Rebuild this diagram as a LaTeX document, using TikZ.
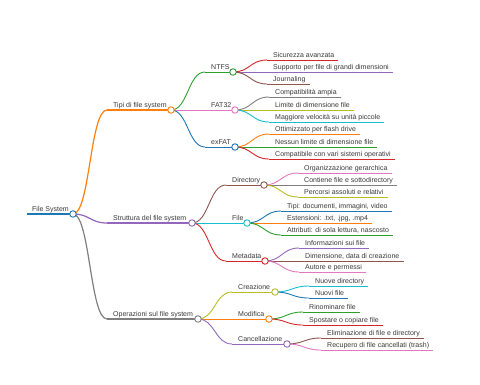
\documentclass[tikz,border=0pt]{standalone}
\usepackage{fontspec}
\newfontfamily\mmfont{Liberation Sans}
\usetikzlibrary{calc,backgrounds}
\definecolor{cblue}{HTML}{1F77B4}
\definecolor{corange}{HTML}{FF7F0E}
\definecolor{cgreen}{HTML}{2CA02C}
\definecolor{cred}{HTML}{D62728}
\definecolor{cpurple}{HTML}{9467BD}
\definecolor{cbrown}{HTML}{8C564B}
\definecolor{cpink}{HTML}{E377C2}
\definecolor{cgray}{HTML}{7F7F7F}
\definecolor{colive}{HTML}{BCBD22}
\definecolor{ccyan}{HTML}{17BECF}
\definecolor{txt}{HTML}{3A3A3A}
\def\linkw{0.9pt}
\tikzset{
  mmtext/.style={anchor=base west, inner sep=0pt, font=\mmfont\fontsize{7}{8}\selectfont, text=txt},
  link/.style={line width=\linkw, to path={.. controls +(17,0) and ($(\tikztotarget)+(-17,0)$) .. (\tikztotarget)}},
  hline/.style={line width=\linkw},
  dot/.style={circle, draw=#1, fill=white, line width=0.9pt, minimum size=6.5pt, inner sep=0pt},
}
% #1 parent, #2 name, #3 start x, #4 circle x, #5 y, #6 colour, #7 text
\newcommand\mmbranch[7]{%
  \coordinate (#2-s) at (#3,#5);
  \node[dot=#6] (#2) at (#4,#5) {};
  \node[mmtext] (#2-t) at (#3+6,#5-3) {#7};
  \begin{scope}[on background layer]
    \draw[link, draw=#6] (#1.center) to (#2-s);
    \draw[hline, draw=#6] (#2-s) -- (#2.center);
  \end{scope}
}
% #1 parent, #2 name, #3 start x, #4 y, #5 colour, #6 text
\newcommand\mmleaf[6]{%
  \coordinate (#2-s) at (#3,#4);
  \node[mmtext] (#2) at (#3+6,#4-3) {#6};
  \begin{scope}[on background layer]
    \draw[link, draw=#5] (#1.center) to (#2-s);
    \draw[hline, draw=#5] (#2-s) -- ($(#2-s -| #2.east)+(4,0)$);
  \end{scope}
}
\begin{document}
\begin{tikzpicture}[x=1pt,y=-1pt]
\useasboundingbox (0,0) rectangle (480,384);
\begin{scope}[on background layer]
  \fill[white] (0,0) rectangle (480,384);
\end{scope}
% root
\coordinate (root-s) at (27,214);
\node[dot=cblue] (root) at (73,214) {};
\node[mmtext] (root-t) at (32,211) {File System};
\begin{scope}[on background layer]
  \draw[cblue, line width=1.8pt] (root-s) -- (root.center);
\end{scope}
% level 1
\def\linkw{1.2pt}
\mmbranch{root}{tipi}{107}{171}{110}{corange}{Tipi di file system}
\mmbranch{root}{strut}{107}{192}{223}{cpurple}{Struttura del file system}
\mmbranch{root}{oper}{107}{198}{319}{cgray}{Operazioni sul file system}
\def\linkw{0.9pt}
% level 2
\mmbranch{tipi}{ntfs}{205}{233}{72}{cgreen}{NTFS}
\mmbranch{tipi}{fat}{205}{235}{110}{cpink}{FAT32}
\mmbranch{tipi}{exfat}{205}{235}{147}{cblue}{exFAT}
\mmbranch{strut}{dir}{226}{264}{185}{cbrown}{Directory}
\mmbranch{strut}{file}{226}{247}{223}{ccyan}{File}
\mmbranch{strut}{meta}{226}{265}{261}{cred}{Metadata}
\mmbranch{oper}{crea}{232}{275}{292}{colive}{Creazione}
\mmbranch{oper}{modi}{232}{269}{319}{corange}{Modifica}
\mmbranch{oper}{canc}{232}{287}{344}{cpurple}{Cancellazione}
% leaves
\mmleaf{ntfs}{l1}{267}{60}{cred}{Sicurezza avanzata}
\mmleaf{ntfs}{l2}{267}{72}{cpurple}{Supporto per file di grandi dimensioni}
\mmleaf{ntfs}{l3}{267}{84}{cbrown}{Journaling}
\mmleaf{fat}{l4}{269}{97}{cgray}{Compatibilità ampia}
\mmleaf{fat}{l5}{269}{110}{colive}{Limite di dimensione file}
\mmleaf{fat}{l6}{269}{122}{ccyan}{Maggiore velocità su unità piccole}
\mmleaf{exfat}{l7}{269}{134}{corange}{Ottimizzato per flash drive}
\mmleaf{exfat}{l8}{269}{147}{cgreen}{Nessun limite di dimensione file}
\mmleaf{exfat}{l9}{269}{159}{cred}{Compatibile con vari sistemi operativi}
\mmleaf{dir}{l10}{298}{173}{cpink}{Organizzazione gerarchica}
\mmleaf{dir}{l11}{298}{185}{cgray}{Contiene file e sottodirectory}
\mmleaf{dir}{l12}{298}{197}{colive}{Percorsi assoluti e relativi}
\mmleaf{file}{l13}{281}{211}{cblue}{Tipi: documenti, immagini, video}
\mmleaf{file}{l14}{281}{223}{corange}{Estensioni: .txt, .jpg, .mp4}
\mmleaf{file}{l15}{281}{235}{cgreen}{Attributi: di sola lettura, nascosto}
\mmleaf{meta}{l16}{299}{248}{cpurple}{Informazioni sui file}
\mmleaf{meta}{l17}{299}{261}{cbrown}{Dimensione, data di creazione}
\mmleaf{meta}{l18}{299}{272}{cpink}{Autore e permessi}
\mmleaf{crea}{l19}{309}{286}{ccyan}{Nuove directory}
\mmleaf{crea}{l20}{309}{298}{cblue}{Nuovi file}
\mmleaf{modi}{l21}{303}{312}{cgreen}{Rinominare file}
\mmleaf{modi}{l22}{303}{325}{cred}{Spostare o copiare file}
\mmleaf{canc}{l23}{321}{338}{cbrown}{Eliminazione di file e directory}
\mmleaf{canc}{l24}{321}{350}{cpink}{Recupero di file cancellati (trash)}
\end{tikzpicture}
\end{document}
